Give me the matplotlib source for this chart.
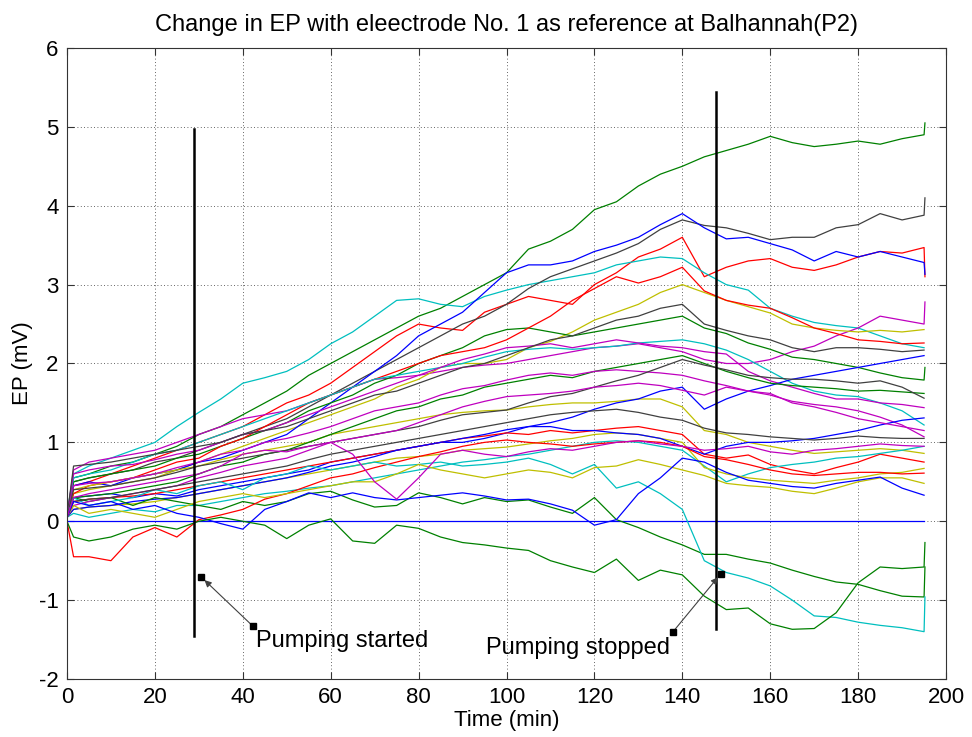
import matplotlib
matplotlib.use('Agg')
import matplotlib.pyplot as plt

plt.rcParams['font.family'] = ['Liberation Sans', 'DejaVu Sans']
plt.rcParams['axes.unicode_minus'] = False

# time axis of the traces (min)
minutes = [0, 1.5] + list(range(5, 200, 5))

# EP traces (mV) at the times above
g_top = [0.05, 0.55, 0.6, 0.7, 0.75, 0.85, 0.95, 1.1, 1.2, 1.35,
         1.5, 1.65, 1.85, 2.0, 2.15, 2.3, 2.45, 2.6, 2.7, 2.85,
         3.0, 3.15, 3.45, 3.55, 3.7, 3.95, 4.05, 4.25, 4.4, 4.5,
         4.62, 4.7, 4.78, 4.88, 4.8, 4.75, 4.78, 4.82, 4.78, 4.85, 4.9]
c_top = [0.1, 0.6, 0.7, 0.8, 0.9, 1.0, 1.2, 1.38, 1.55, 1.75,
         1.82, 1.9, 2.05, 2.25, 2.4, 2.6, 2.8, 2.82, 2.75, 2.72,
         2.85, 2.93, 3.0, 3.05, 3.1, 3.15, 3.25, 3.3, 3.35, 3.33,
         3.15, 3.0, 2.93, 2.7, 2.6, 2.52, 2.48, 2.45, 2.35, 2.25, 2.2]
b_top = [0.05, 0.45, 0.5, 0.45, 0.55, 0.6, 0.65, 0.75, 0.8, 0.9,
         1.0, 1.1, 1.3, 1.5, 1.7, 1.9, 2.1, 2.35, 2.5, 2.65,
         2.9, 3.15, 3.25, 3.25, 3.3, 3.42, 3.5, 3.6, 3.76, 3.9,
         3.72, 3.58, 3.6, 3.52, 3.44, 3.3, 3.42, 3.35, 3.42, 3.35, 3.28]
k_top = [0.05, 0.5, 0.55, 0.6, 0.65, 0.75, 0.8, 0.9, 1.0, 1.1,
         1.2, 1.3, 1.45, 1.6, 1.75, 1.9, 2.05, 2.2, 2.35, 2.5,
         2.6, 2.75, 2.95, 3.1, 3.2, 3.3, 3.4, 3.52, 3.7, 3.82,
         3.75, 3.72, 3.65, 3.57, 3.6, 3.6, 3.72, 3.76, 3.9, 3.82, 3.88]
r_top = [0.05, 0.45, 0.5, 0.6, 0.7, 0.8, 0.9, 1.0, 1.1, 1.2,
         1.35, 1.5, 1.6, 1.75, 1.95, 2.15, 2.35, 2.5, 2.45, 2.42,
         2.65, 2.75, 2.85, 2.8, 2.75, 3.0, 3.15, 3.35, 3.45, 3.6,
         3.1, 3.22, 3.3, 3.33, 3.22, 3.18, 3.25, 3.35, 3.42, 3.4, 3.47]
r_2 = [0.05, 0.35, 0.45, 0.5, 0.55, 0.65, 0.75, 0.8, 0.95, 1.05,
       1.2, 1.35, 1.5, 1.6, 1.7, 1.8, 1.9, 2.0, 2.1, 2.15,
       2.2, 2.3, 2.45, 2.6, 2.8, 2.95, 3.1, 3.02, 3.1, 3.22,
       2.92, 2.8, 2.74, 2.7, 2.58, 2.45, 2.38, 2.3, 2.28, 2.25, 2.26]
y_top = [0.05, 0.35, 0.4, 0.45, 0.5, 0.55, 0.65, 0.75, 0.85, 0.95,
         1.05, 1.15, 1.25, 1.35, 1.45, 1.55, 1.7, 1.8, 1.95, 2.0,
         2.0, 2.05, 2.2, 2.28, 2.4, 2.55, 2.65, 2.75, 2.9, 3.0,
         2.9, 2.8, 2.72, 2.64, 2.5, 2.45, 2.42, 2.4, 2.42, 2.4, 2.43]
m_top = [0.05, 0.65, 0.75, 0.8, 0.85, 0.9, 1.0, 1.1, 1.2, 1.3,
         1.35, 1.4, 1.5, 1.6, 1.7, 1.8, 1.82, 1.85, 1.9, 1.95,
         1.98, 2.0, 2.05, 2.1, 2.15, 2.2, 2.22, 2.25, 2.2, 2.15,
         2.05, 2.0, 2.0, 2.05, 2.15, 2.22, 2.35, 2.45, 2.6, 2.55, 2.5]
k_2 = [0.05, 0.7, 0.72, 0.75, 0.8, 0.85, 0.9, 0.95, 1.0, 1.1,
       1.15, 1.2, 1.3, 1.4, 1.5, 1.6, 1.65, 1.75, 1.85, 1.95,
       2.0, 2.1, 2.2, 2.3, 2.35, 2.45, 2.55, 2.6, 2.7, 2.75,
       2.5, 2.42, 2.35, 2.3, 2.2, 2.15, 2.2, 2.2, 2.18, 2.15, 2.17]
g_2 = [0.05, 0.5, 0.55, 0.6, 0.65, 0.7, 0.8, 0.85, 0.95, 1.05,
       1.15, 1.25, 1.4, 1.5, 1.6, 1.75, 1.85, 2.0, 2.1, 2.2,
       2.35, 2.43, 2.45, 2.4, 2.35, 2.4, 2.45, 2.5, 2.55, 2.6,
       2.45, 2.38, 2.26, 2.18, 2.08, 2.05, 2.0, 1.95, 1.88, 1.82, 1.79]
g_3 = [0.05, 0.3, 0.32, 0.35, 0.4, 0.45, 0.5, 0.6, 0.7, 0.75,
       0.85, 0.9, 1.0, 1.1, 1.2, 1.3, 1.4, 1.45, 1.55, 1.6,
       1.7, 1.75, 1.8, 1.85, 1.82, 1.9, 1.95, 2.0, 2.05, 2.1,
       2.0, 1.9, 1.82, 1.75, 1.72, 1.7, 1.68, 1.65, 1.66, 1.64, 1.62]
m_2 = [0.05, 0.6, 0.65, 0.7, 0.72, 0.78, 0.85, 0.9, 1.0, 1.1,
       1.15, 1.25, 1.35, 1.45, 1.55, 1.65, 1.75, 1.85, 1.95, 2.05,
       2.12, 2.2, 2.22, 2.25, 2.2, 2.25, 2.3, 2.26, 2.22, 2.2,
       2.15, 2.12, 1.9, 1.78, 1.7, 1.62, 1.55, 1.55, 1.5, 1.48, 1.44]
m_3 = [0.05, 0.45, 0.48, 0.5, 0.55, 0.6, 0.68, 0.75, 0.85, 0.9,
       1.0, 1.05, 1.12, 1.2, 1.3, 1.4, 1.45, 1.5, 1.6, 1.68,
       1.72, 1.79, 1.85, 1.88, 1.85, 1.9, 1.92, 1.9, 1.88, 1.85,
       1.78, 1.72, 1.65, 1.6, 1.52, 1.48, 1.45, 1.4, 1.32, 1.22, 1.07]
m_4 = [0.05, 0.2, 0.25, 0.3, 0.35, 0.4, 0.45, 0.55, 0.62, 0.7,
       0.75, 0.8, 0.9, 1.0, 1.05, 1.1, 1.15, 1.25, 1.35, 1.45,
       1.52, 1.58, 1.6, 1.62, 1.65, 1.7, 1.72, 1.75, 1.72, 1.66,
       1.6, 1.7, 1.65, 1.62, 1.5, 1.45, 1.38, 1.3, 1.25, 1.2, 1.15]
m_dip = [0.05, 0.3, 0.35, 0.4, 0.45, 0.5, 0.55, 0.6, 0.7, 0.85,
         0.9, 0.88, 0.95, 1.0, 0.85, 0.5, 0.28, 0.55, 0.85, 0.9,
         0.85, 0.82, 0.88, 0.92, 0.9, 0.95, 1.0, 1.02, 0.98, 0.95,
         0.9, 0.92, 0.95, 0.88, 0.85, 0.9, 0.92, 0.95, 0.98, 0.96, 0.95]
k_3 = [0.05, 0.4, 0.42, 0.45, 0.5, 0.55, 0.62, 0.7, 0.75, 0.8,
       0.85, 0.9, 0.95, 1.0, 1.05, 1.1, 1.15, 1.2, 1.28, 1.35,
       1.38, 1.41, 1.5, 1.58, 1.62, 1.7, 1.78, 1.85, 1.95, 2.05,
       1.98, 1.92, 1.85, 1.82, 1.8, 1.8, 1.78, 1.75, 1.78, 1.7, 1.56]
k_4 = [0.05, 0.25, 0.28, 0.3, 0.35, 0.4, 0.45, 0.5, 0.55, 0.6,
       0.65, 0.7, 0.78, 0.85, 0.9, 0.95, 1.0, 1.05, 1.1, 1.15,
       1.2, 1.25, 1.3, 1.35, 1.38, 1.4, 1.42, 1.38, 1.32, 1.28,
       1.18, 1.12, 1.1, 1.07, 1.05, 1.03, 1.05, 1.08, 1.06, 1.05, 1.05]
b_mid = [0.05, 0.15, 0.18, 0.2, 0.25, 0.28, 0.3, 0.35, 0.4, 0.45,
         0.5, 0.55, 0.62, 0.7, 0.75, 0.82, 0.9, 0.95, 1.0, 1.05,
         1.1, 1.16, 1.2, 1.2, 1.15, 1.15, 1.12, 1.1, 1.05, 0.95,
         0.85, 0.95, 1.0, 1.0, 1.02, 1.05, 1.1, 1.15, 1.22, 1.28, 1.31]
b_2 = [0.05, 0.3, 0.32, 0.35, 0.3, 0.35, 0.32, 0.4, 0.45, 0.5,
       0.55, 0.6, 0.65, 0.75, 0.8, 0.85, 0.9, 0.95, 1.0, 1.0,
       1.05, 1.12, 1.2, 1.25, 1.32, 1.42, 1.5, 1.55, 1.65, 1.7,
       1.42, 1.55, 1.65, 1.72, 1.8, 1.85, 1.9, 1.95, 2.0, 2.05, 2.1]
c_2 = [0.05, 0.55, 0.6, 0.65, 0.75, 0.85, 0.9, 1.0, 1.1, 1.2,
       1.3, 1.4, 1.5, 1.6, 1.7, 1.8, 1.85, 1.9, 1.95, 2.0,
       2.08, 2.15, 2.18, 2.2, 2.18, 2.2, 2.22, 2.26, 2.28, 2.3,
       2.25, 2.17, 2.05, 1.9, 1.75, 1.65, 1.6, 1.58, 1.5, 1.4, 1.22]
c_3 = [0.05, 0.1, 0.05, 0.1, 0.15, 0.12, 0.2, 0.2, 0.25, 0.3,
       0.35, 0.38, 0.42, 0.45, 0.5, 0.55, 0.6, 0.65, 0.7, 0.75,
       0.78, 0.82, 0.85, 0.9, 0.95, 1.0, 1.02, 1.0, 0.95, 0.9,
       0.7, 0.5, 0.6, 0.68, 0.72, 0.75, 0.8, 0.82, 0.86, 0.9, 0.95]
y_2 = [0.05, 0.4, 0.45, 0.5, 0.55, 0.6, 0.65, 0.7, 0.78, 0.85,
       0.9, 0.95, 1.0, 1.1, 1.15, 1.2, 1.25, 1.3, 1.35, 1.38,
       1.4, 1.41, 1.45, 1.48, 1.5, 1.5, 1.52, 1.55, 1.55, 1.45,
       1.15, 1.1, 1.0, 0.95, 0.9, 0.86, 0.88, 0.9, 0.92, 0.9, 0.86]
y_3 = [0.05, 0.15, 0.18, 0.2, 0.22, 0.25, 0.3, 0.35, 0.4, 0.45,
       0.5, 0.55, 0.6, 0.65, 0.7, 0.75, 0.8, 0.82, 0.85, 0.9,
       0.92, 0.94, 0.98, 1.02, 1.05, 1.1, 1.12, 1.1, 1.05, 1.0,
       0.68, 0.6, 0.55, 0.52, 0.5, 0.48, 0.52, 0.55, 0.6, 0.62, 0.67]
r_3 = [0.05, 0.25, 0.28, 0.3, 0.32, 0.35, 0.4, 0.45, 0.5, 0.55,
       0.6, 0.65, 0.7, 0.75, 0.8, 0.85, 0.9, 0.95, 1.0, 1.05,
       1.08, 1.12, 1.1, 1.15, 1.12, 1.15, 1.18, 1.2, 1.15, 1.1,
       0.85, 0.8, 0.84, 0.72, 0.65, 0.6, 0.68, 0.75, 0.85, 0.8, 0.75]
r_low = [0.0, -0.45, -0.45, -0.5, -0.2, -0.08, -0.2, 0.02, 0.08, 0.15,
         0.28, 0.35, 0.45, 0.55, 0.6, 0.68, 0.75, 0.82, 0.88, 0.95,
         1.0, 1.03, 1.0, 0.98, 0.95, 0.98, 1.0, 1.02, 1.0, 0.95,
         0.82, 0.78, 0.72, 0.65, 0.6, 0.58, 0.6, 0.62, 0.62, 0.6, 0.61]
y_low = [0.05, 0.2, 0.1, 0.15, 0.1, 0.05, 0.15, 0.25, 0.3, 0.35,
         0.3, 0.35, 0.4, 0.45, 0.5, 0.5, 0.6, 0.72, 0.65, 0.6,
         0.55, 0.6, 0.65, 0.62, 0.55, 0.68, 0.7, 0.78, 0.72, 0.65,
         0.58, 0.48, 0.45, 0.43, 0.38, 0.35, 0.42, 0.5, 0.55, 0.55, 0.48]
b_low = [0.05, 0.25, 0.2, 0.25, 0.15, 0.2, 0.1, 0.05, -0.03, -0.1,
         0.15, 0.25, 0.36, 0.3, 0.36, 0.3, 0.27, 0.3, 0.33, 0.36,
         0.32, 0.27, 0.28, 0.22, 0.14, -0.05, 0.02, 0.35, 0.55, 0.8,
         0.75, 0.62, 0.52, 0.48, 0.44, 0.42, 0.48, 0.52, 0.56, 0.42, 0.33]
c_drop = [0.05, 0.3, 0.2, 0.25, 0.3, 0.4, 0.35, 0.45, 0.5, 0.4,
          0.55, 0.6, 0.7, 0.65, 0.7, 0.75, 0.7, 0.72, 0.75, 0.7,
          0.72, 0.75, 0.8, 0.72, 0.6, 0.72, 0.42, 0.5, 0.35, 0.15,
          -0.5, -0.65, -0.72, -0.82, -1.0, -1.2, -1.22, -1.28, -1.32, -1.35, -1.4]
g_low1 = [0.0, -0.2, -0.25, -0.2, -0.1, -0.05, -0.1, 0.0, 0.05, 0.0,
          -0.05, -0.22, -0.05, 0.03, -0.25, -0.28, -0.05, -0.09, -0.2, -0.27,
          -0.3, -0.34, -0.37, -0.5, -0.58, -0.65, -0.48, -0.75, -0.62, -0.68,
          -0.95, -1.12, -1.1, -1.3, -1.37, -1.36, -1.16, -0.78, -0.58, -0.6, -0.58]
g_low2 = [0.05, 0.3, 0.25, 0.3, 0.2, 0.3, 0.25, 0.2, 0.15, 0.25,
          0.2, 0.25, 0.35, 0.38, 0.27, 0.18, 0.2, 0.36, 0.3, 0.22,
          0.3, 0.25, 0.27, 0.18, 0.1, 0.3, 0.02, -0.08, -0.2, -0.3,
          -0.42, -0.42, -0.48, -0.53, -0.62, -0.7, -0.77, -0.8, -0.88, -0.95, -0.96]
ref_1 = [0.0] * len(minutes)   # electrode No. 1 itself

# (trace, MATLAB colour letter, last sample where the trace jumps at the end)
traces = [
    (ref_1, 'b', None), (g_top, 'g', 5.05), (r_top, 'r', 3.1), (c_top, 'c', None),
    (m_top, 'm', 2.78), (y_top, 'y', None), (k_top, 'k', 4.1), (b_top, 'b', 3.13),
    (g_2, 'g', 1.95), (r_2, 'r', None), (c_2, 'c', None), (m_2, 'm', None),
    (y_2, 'y', None), (k_2, 'k', None), (b_2, 'b', None), (g_3, 'g', None),
    (r_3, 'r', None), (c_3, 'c', None), (m_3, 'm', None), (y_3, 'y', None),
    (k_3, 'k', None), (b_mid, 'b', None), (g_low2, 'g', -0.58), (r_low, 'r', None),
    (c_drop, 'c', -0.96), (m_4, 'm', None), (y_low, 'y', None), (k_4, 'k', None),
    (b_low, 'b', None), (g_low1, 'g', -0.27), (m_dip, 'm', None),
]

# pumping markers: (time, bottom, top)
pump_lines = [(28.8, -1.46, 4.97), (147.6, -1.36, 5.44)]

colours = {'b': (0, 0, 1), 'g': (0, 0.5, 0), 'r': (1, 0, 0), 'c': (0, 0.75, 0.75),
           'm': (0.75, 0, 0.75), 'y': (0.75, 0.75, 0), 'k': (0.25, 0.25, 0.25)}

fig = plt.figure(figsize=(9.72, 7.37), dpi=100)
ax = fig.add_axes([0.0689, 0.0787, 0.9044, 0.8562])

for vals, c, tail in traces:
    assert len(vals) == len(minutes)
    t = list(minutes)
    v = list(vals)
    if tail is not None:
        t.append(minutes[-1] + 0.2)
        v.append(tail)
    ax.plot(t, v, color=colours[c], lw=0.9, zorder=2)

for t0, lo, hi in pump_lines:
    ax.plot([t0, t0], [lo, hi], color='k', lw=1.8, zorder=4)

# text arrows
ax.annotate('', xy=(30.6, -0.71), xytext=(42.3, -1.33),
            arrowprops=dict(arrowstyle='-|>', color='0.25', lw=0.8,
                            mutation_scale=10, shrinkA=0, shrinkB=3), zorder=5)
ax.plot([30.6, 42.3], [-0.71, -1.33], 's', color='k', ms=5, zorder=6)
ax.text(42.9, -1.59, 'Pumping started', fontsize=17, ha='left', va='baseline', zorder=6)

ax.annotate('', xy=(148.7, -0.67), xytext=(137.9, -1.40),
            arrowprops=dict(arrowstyle='-|>', color='0.25', lw=0.8,
                            mutation_scale=10, shrinkA=0, shrinkB=3), zorder=5)
ax.plot([148.7, 137.9], [-0.67, -1.40], 's', color='k', ms=5, zorder=6)
ax.text(137.2, -1.68, 'Pumping stopped', fontsize=17, ha='right', va='baseline', zorder=6)

ax.set_xlim(0, 200)
ax.set_ylim(-2, 6)
ax.set_xticks(range(0, 201, 20))
ax.set_yticks(range(-2, 7))
ax.grid(True, color='0.2', linestyle=(0, (1, 3)), lw=0.6)
ax.tick_params(direction='in', length=5, top=True, right=True, labelsize=16,
               color='0.2', pad=6)
for s in ax.spines.values():
    s.set_color('0.2')

ax.set_xlabel('Time (min)', fontsize=16, labelpad=1)
ax.set_ylabel('EP (mV)', fontsize=16, labelpad=4)
ax.set_title('Change in EP with eleectrode No. 1 as reference at Balhannah(P2)',
             fontsize=17, pad=12)

fig.savefig('out.png', dpi=100)
